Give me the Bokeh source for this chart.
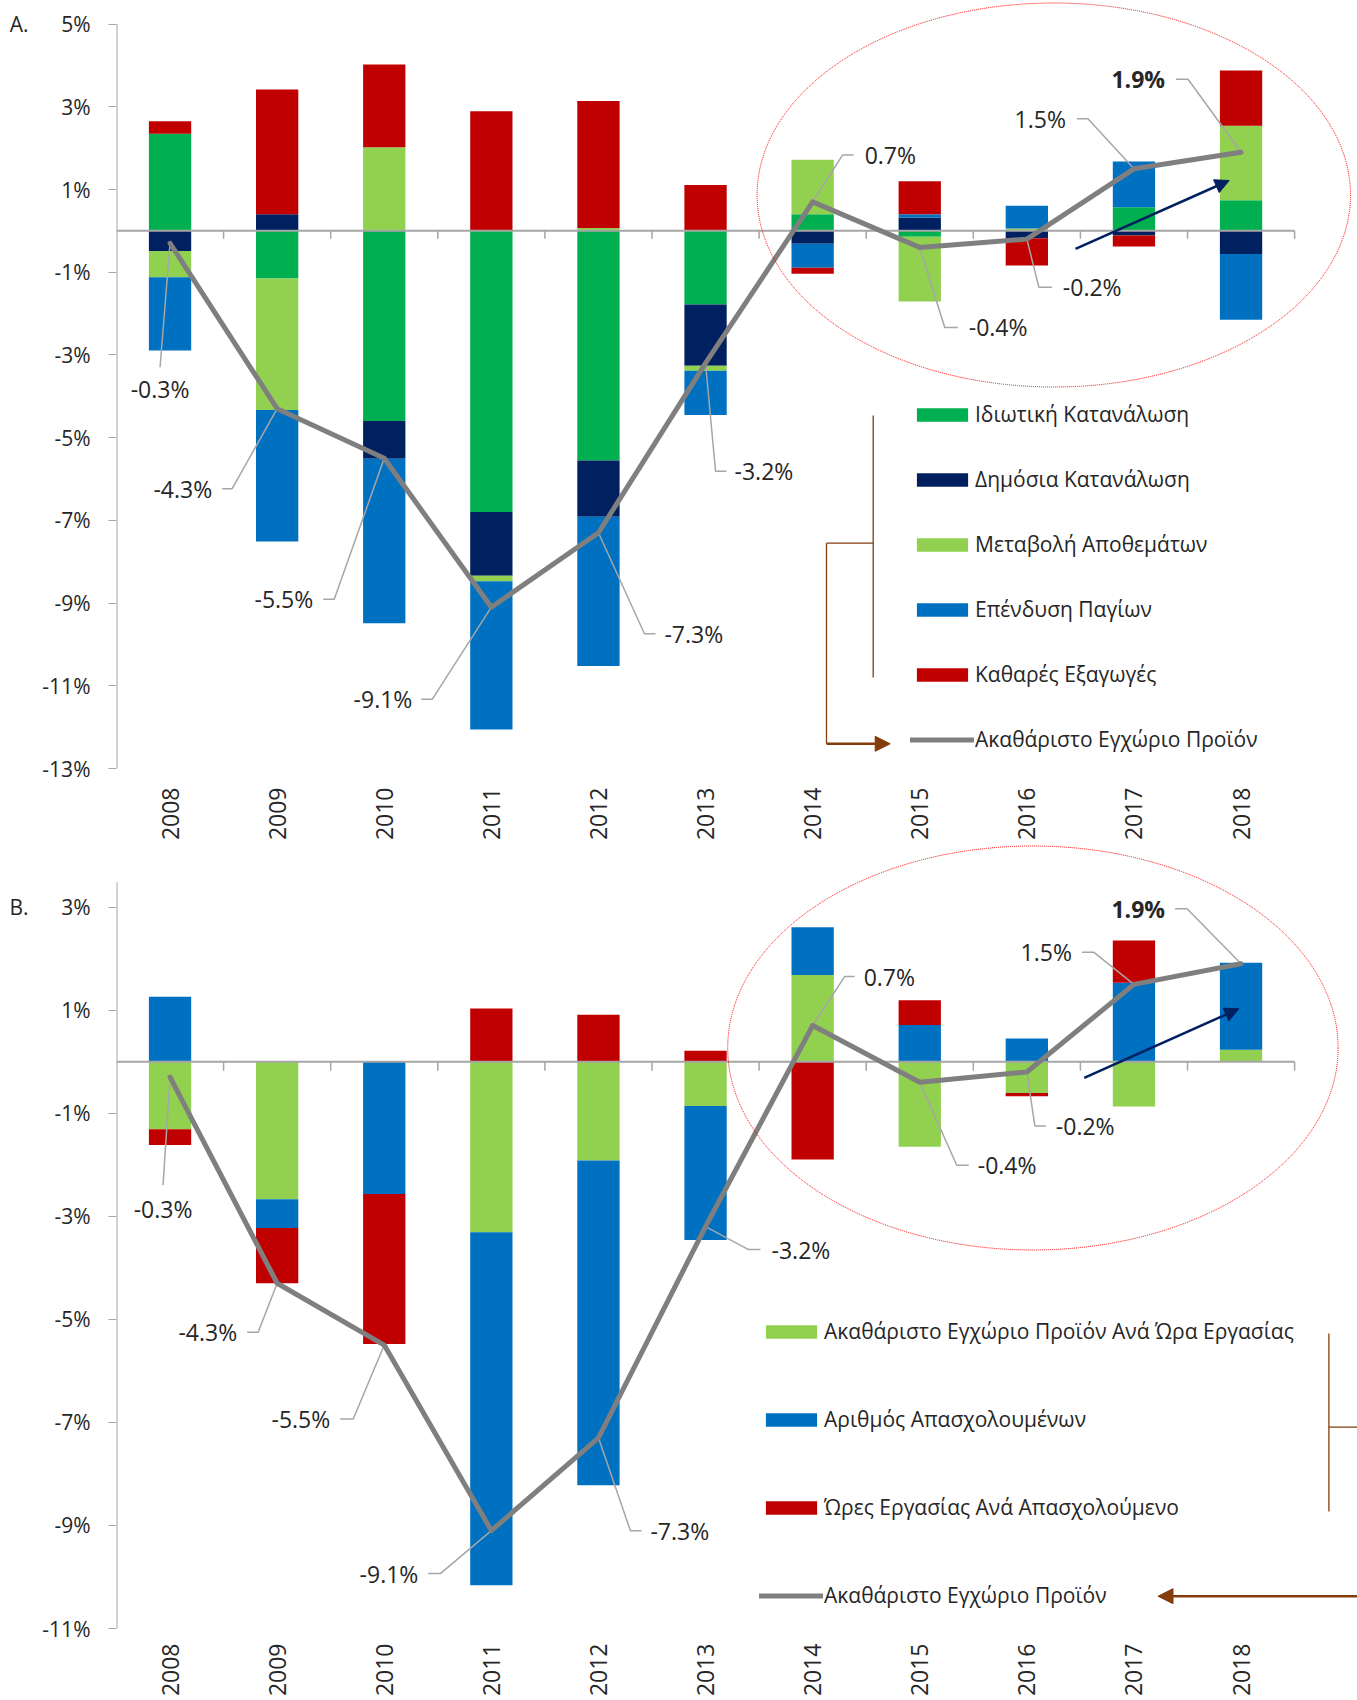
import math
import numpy as np
from bokeh.plotting import figure
from bokeh.layouts import column
from bokeh.models import (Range1d, FixedTicker, PrintfTickFormatter, Legend, LegendItem,
                          Arrow, NormalHead, LinearAxis)
from bokeh.core.properties import value
from bokeh.embed import file_html
from bokeh.resources import INLINE

# ---------------- data ----------------
years = ["2008", "2009", "2010", "2011", "2012", "2013", "2014", "2015", "2016", "2017", "2018"]
gdp = [-0.3, -4.3, -5.5, -9.1, -7.3, -3.2, 0.7, -0.4, -0.2, 1.5, 1.9]
gdp_name = "Ακαθάριστο Εγχώριο Προϊόν"

# Panel A: demand-side contributions
a_names = ["Ιδιωτική Κατανάλωση", "Δημόσια Κατανάλωση", "Μεταβολή Αποθεμάτων",
           "Επένδυση Παγίων", "Καθαρές Εξαγωγές"]
a_private = [2.35, -1.15, -4.60, -6.80, -5.55, -1.78, 0.40, -0.14, 0.00, 0.57, 0.74]
a_public = [-0.49, 0.40, -0.91, -1.54, -1.36, -1.48, -0.31, 0.32, -0.18, -0.11, -0.56]
a_inventories = [-0.63, -3.18, 2.02, -0.13, 0.07, -0.12, 1.32, -1.57, 0.06, 0.00, 1.80]
a_investment = [-1.77, -3.18, -3.98, -3.59, -3.61, -1.07, -0.58, 0.08, 0.55, 1.11, -1.59]
a_net_exports = [0.30, 3.02, 2.00, 2.89, 3.07, 1.11, -0.15, 0.80, -0.66, -0.27, 1.34]
a_ticks = [5, 3, 1, -1, -3, -5, -7, -9, -11, -13]

# Panel B: supply-side decomposition
b_names = ["Ακαθάριστο Εγχώριο Προϊόν Ανά Ώρα Εργασίας", "Αριθμός Απασχολουμένων",
           "Ώρες Εργασίας Ανά Απασχολούμενο"]
b_productivity = [-1.31, -2.67, 0.00, -3.31, -1.92, -0.86, 1.68, -1.65, -0.61, -0.87, 0.23]
b_employment = [1.26, -0.56, -2.57, -6.85, -6.30, -2.60, 0.93, 0.71, 0.45, 1.53, 1.69]
b_hours = [-0.31, -1.07, -2.91, 1.03, 0.91, 0.21, -1.90, 0.48, -0.06, 0.82, 0.00]
b_ticks = [3, 1, -1, -3, -5, -7, -9, -11]

# ---------------- style ----------------
FONT = "Open Sans"
TXT = "#262626"
AXIS = "#A6A6A6"
LINE_GRAY = "#7F7F7F"
LEADER = "#A6A6A6"
BROWN = "#843C0C"
NAVY = "#002060"
A_COLORS = ["#00B050", "#002060", "#92D050", "#0070C0", "#C00000"]
B_COLORS = ["#92D050", "#0070C0", "#C00000"]

LEFT = 116
FRAME_W = 1241
PX_X = 107.1
X_START = -0.5
X_END = X_START + FRAME_W / PX_X
LAB_DX = -2  # fine horizontal correction for label placement (px)

# label offsets (px) relative to each GDP point: text anchor dx, dy, align, leader elbow points
A_LAB = [(-8, 146, "center", [(-8, 124)]),
         (-63, 80, "right", [(-43, 80), (-53, 80)]),
         (-69, 141, "right", [(-48, 141), (-59, 141)]),
         (-77, 92, "right", [(-57, 92), (-68, 92)]),
         (68, 101, "left", [(48, 101), (59, 101)]),
         (31, 108, "left", [(12, 108), (23, 108)]),
         (54, -47, "left", [(32, -47), (43, -47)]),
         (51, 80, "left", [(27, 80), (40, 80)]),
         (38, 48, "left", [(14, 48), (27, 48)]),
         (-66, -50, "right", [(-44, -50), (-55, -50)]),
         (-74, -73, "right", [(-51, -73), (-63, -73)])]
B_LAB = [(-5, 132, "center", [(-5, 108)]),
         (-38, 49, "right", [(-17, 49), (-28, 49)]),
         (-52, 74, "right", [(-29, 74), (-42, 74)]),
         (-71, 43, "right", [(-49, 43), (-61, 43)]),
         (54, 93, "left", [(34, 93), (45, 93)]),
         (68, 23, "left", [(45, 23), (57, 23)]),
         (53, -49, "left", [(34, -49), (44, -49)]),
         (60, 83, "left", [(39, 83), (51, 83)]),
         (31, 54, "left", [(10, 54), (21, 54)]),
         (-60, -32, "right", [(-38, -32), (-50, -32)]),
         (-74, -55, "right", [(-52, -55), (-64, -55)])]


def stack(series):
    n = len(series[0])
    pos = np.zeros(n)
    neg = np.zeros(n)
    out = []
    for vals in series:
        v = np.array(vals, dtype=float)
        bottom = np.where(v >= 0, pos, neg)
        top = bottom + v
        pos = np.where(v >= 0, top, pos)
        neg = np.where(v < 0, top, neg)
        out.append((bottom, top))
    return out


def build(series, names, colors, ticks, y0, y1, frame_h, bottom_border, standoff,
          labels, page_top, legend_loc, legend_spacing, tick_len, axis_top, panel_letter):
    px_y = frame_h / (y1 - y0)
    fx = lambda px: X_START + (px - LEFT) / PX_X
    fy = lambda py: y1 - (py - page_top) / px_y

    p = figure(frame_width=FRAME_W, frame_height=frame_h,
               x_range=Range1d(X_START, X_END), y_range=Range1d(y0, y1),
               output_backend="svg", toolbar_location=None,
               min_border_left=LEFT, min_border_right=0, min_border_top=0,
               min_border_bottom=bottom_border)
    p.grid.visible = False
    p.outline_line_color = None
    p.background_fill_color = "white"

    # axes
    p.yaxis.ticker = FixedTicker(ticks=ticks)
    p.yaxis.formatter = PrintfTickFormatter(format="%d%%")
    p.yaxis.axis_line_color = None
    p.yaxis.major_tick_out = 8
    p.yaxis.major_tick_in = 0
    p.yaxis.major_tick_line_color = AXIS
    p.yaxis.minor_tick_line_color = None
    p.yaxis.major_label_standoff = 18
    p.yaxis.major_label_text_font = FONT
    p.yaxis.major_label_text_font_size = "21px"
    p.yaxis.major_label_text_color = TXT

    # panel letter as an outer axis label at the top tick
    top_tick = ticks[0]
    ax2 = LinearAxis(ticker=FixedTicker(ticks=[top_tick]),
                     major_label_overrides={top_tick: panel_letter},
                     axis_line_color=None, major_tick_line_color=None, minor_tick_line_color=None,
                     major_tick_out=0, major_tick_in=0, major_label_standoff=11,
                     major_label_text_font=FONT, major_label_text_font_size="21px",
                     major_label_text_color=TXT)
    p.add_layout(ax2, "left")

    xs = list(range(len(years)))
    p.xaxis.ticker = FixedTicker(ticks=xs)
    p.xaxis.major_label_overrides = {i: y for i, y in enumerate(years)}
    p.xaxis.major_label_orientation = math.pi / 2
    p.xaxis.axis_line_color = None
    p.xaxis.major_tick_line_color = None
    p.xaxis.minor_tick_line_color = None
    p.xaxis.major_tick_out = 0
    p.xaxis.major_tick_in = 0
    p.xaxis.major_label_standoff = standoff
    p.xaxis.major_label_text_font = FONT
    p.xaxis.major_label_text_font_size = "23px"
    p.xaxis.major_label_text_color = TXT

    # bars
    renderers = []
    for (bottom, top), c in zip(stack(series), colors):
        r = p.vbar(x=xs, bottom=bottom, top=top, width=0.395, fill_color=c, line_color=None)
        renderers.append(r)

    # axis lines
    p.segment(x0=X_START, y0=y0, x1=X_START, y1=axis_top, line_color=AXIS, line_width=2)
    p.segment(x0=X_START, y0=0, x1=len(years) - 0.5, y1=0, line_color=AXIS, line_width=2)
    bounds = [k + 0.5 for k in range(len(years))]
    p.segment(x0=bounds, y0=[0] * len(bounds), x1=bounds, y1=[-tick_len / px_y] * len(bounds),
              line_color=AXIS, line_width=1.5)

    # leaders
    lx, ly = [], []
    for i, (dx, dy, al, pts) in enumerate(labels):
        lx.append([xs[i]] + [xs[i] + (a + LAB_DX) / PX_X for a, b in pts])
        ly.append([gdp[i]] + [gdp[i] - b / px_y for a, b in pts])
    p.multi_line(xs=lx, ys=ly, line_color=LEADER, line_width=1.5)

    # GDP line
    gl = p.line(x=xs, y=gdp, line_color=LINE_GRAY, line_width=5, line_join="round", line_cap="round")

    # labels
    p.text(x=xs, y=gdp, text=[f"{v:.1f}%" for v in gdp],
           x_offset=[l[0] + LAB_DX for l in labels], y_offset=[l[1] for l in labels],
           text_align=[l[2] for l in labels],
           text_font_style=["bold" if i == len(gdp) - 1 else "normal" for i in range(len(gdp))],
           text_baseline="middle", text_font=value(FONT), text_font_size="23px", text_color=TXT)

    items = [LegendItem(label=n, renderers=[r]) for n, r in zip(names, renderers)]
    items.append(LegendItem(label=gdp_name, renderers=[gl]))
    leg = Legend(items=items, location=legend_loc, orientation="vertical",
                 spacing=legend_spacing, glyph_width=64, glyph_height=17, label_standoff=1,
                 label_height=30, padding=0, margin=0, border_line_color=None,
                 background_fill_alpha=0, label_text_font=FONT, label_text_font_size="21px",
                 label_text_color=TXT)
    p.add_layout(leg)
    return p, fx, fy, px_y


# ---------- Panel A ----------
pA, fxA, fyA, pyA = build([a_private, a_public, a_inventories, a_investment, a_net_exports],
                          a_names, A_COLORS, a_ticks, -13, 5.57, 768, 72, 19, A_LAB,
                          0, (794, 14), 35, 8, 5, "A.")
pA.ellipse(x=fxA(1053.3), y=fyA(194.5), width=593.4 / PX_X, height=384 / pyA,
           fill_color=None, line_color="#FF0000", line_dash="1 1", line_width=1)
pA.add_layout(Arrow(end=NormalHead(size=14, fill_color=NAVY, line_color=NAVY),
                    x_start=fxA(1075), y_start=fyA(248.3), x_end=fxA(1228.7), y_end=fyA(180),
                    line_color=NAVY, line_width=2.5))
for (x0, y0_, x1, y1_) in [(872.7, 415, 872.7, 677), (826, 542.7, 872.7, 542.7),
                           (826, 542.7, 826, 743.3)]:
    pA.segment(x0=fxA(x0), y0=fyA(y0_), x1=fxA(x1), y1=fyA(y1_), line_color=BROWN, line_width=1.3)
pA.add_layout(Arrow(end=NormalHead(size=15, fill_color=BROWN, line_color=BROWN),
                    x_start=fxA(826), y_start=fyA(743.3), x_end=fxA(889.7), y_end=fyA(743.3),
                    line_color=BROWN, line_width=2.5))

# ---------- Panel B ----------
B_TOP = 843
pB, fxB, fyB, pyB = build([b_productivity, b_employment, b_hours],
                          b_names, B_COLORS, b_ticks, -11, 4.233, 785, 68, 15, B_LAB,
                          B_TOP, (643, 18), 58, 9, 3.48, "B.")
pB.ellipse(x=fxB(1032.4), y=fyB(1047.5), width=610.4 / PX_X, height=404 / pyB,
           fill_color=None, line_color="#FF0000", line_dash="1 1", line_width=1)
pB.add_layout(Arrow(end=NormalHead(size=14, fill_color=NAVY, line_color=NAVY),
                    x_start=fxB(1083.7), y_start=fyB(1077.3), x_end=fxB(1238.3), y_end=fyB(1008.3),
                    line_color=NAVY, line_width=2.5))
for (x0, y0_, x1, y1_) in [(1328.4, 1333, 1328.4, 1511), (1328.4, 1426.7, 1362, 1426.7)]:
    pB.segment(x0=fxB(x0), y0=fyB(y0_), x1=fxB(x1), y1=fyB(y1_), line_color=BROWN, line_width=1.3)
pB.add_layout(Arrow(end=NormalHead(size=15, fill_color=BROWN, line_color=BROWN),
                    x_start=fxB(1362), y_start=fyB(1595.7), x_end=fxB(1157.5), y_end=fyB(1595.7),
                    line_color=BROWN, line_width=2.5))

layout = column(pA, pB)
open("out.html", "w").write(file_html(layout, INLINE))
